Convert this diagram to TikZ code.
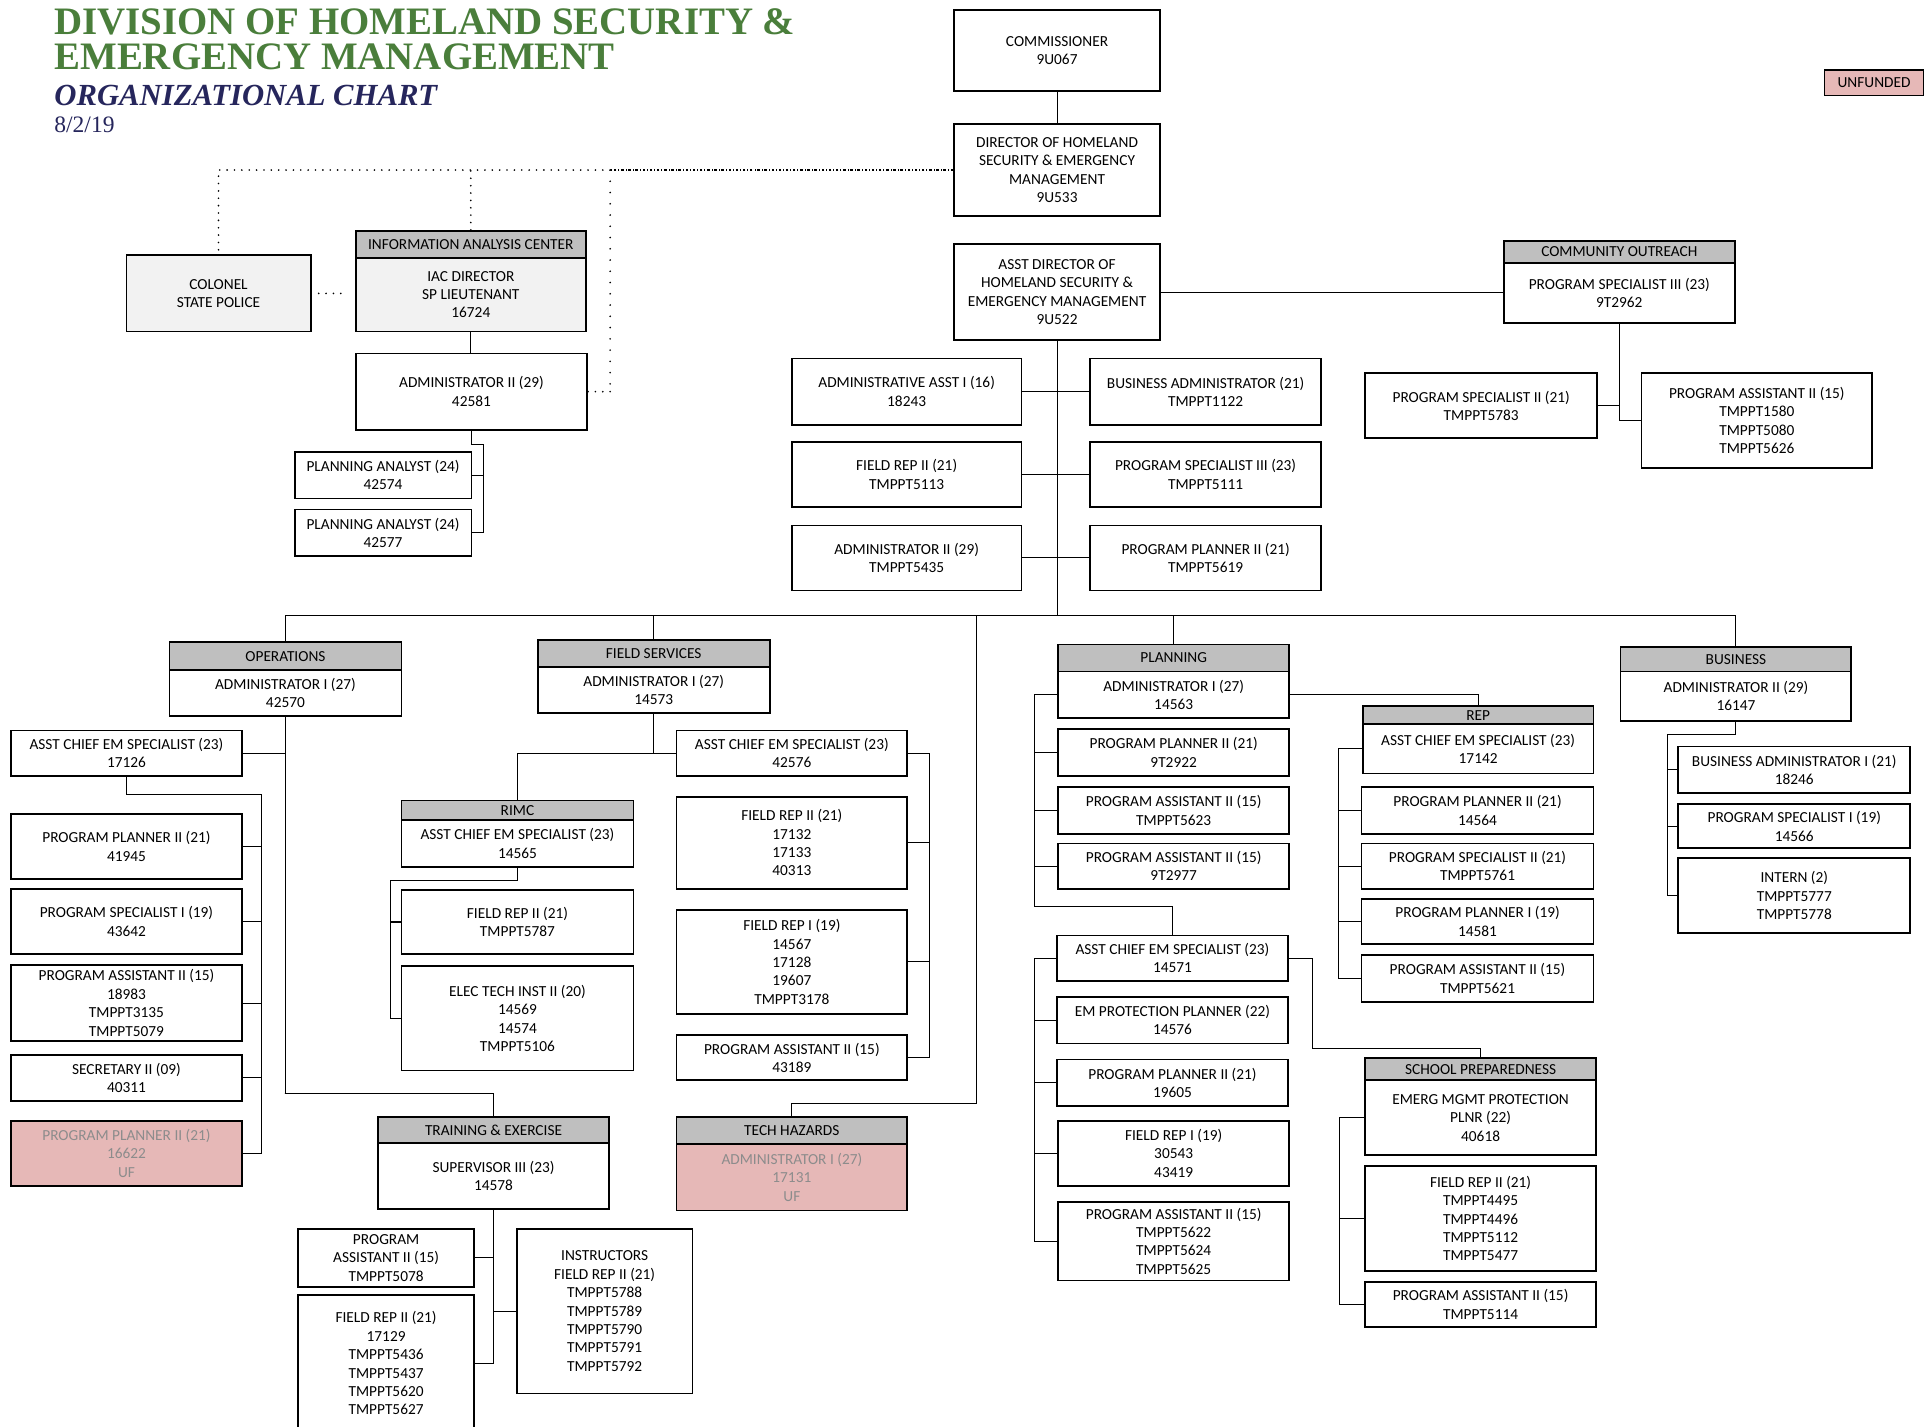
\documentclass[tikz,border=0pt]{standalone}
\usepackage{fontspec}
\setmainfont{Carlito}
\newfontfamily\tnr{Liberation Serif}
\definecolor{ttlgreen}{RGB}{74,126,59}
\definecolor{ttlnavy}{RGB}{38,38,92}
\definecolor{hdrgray}{RGB}{191,191,191}
\definecolor{ltgray}{RGB}{242,242,242}
\definecolor{ufpink}{RGB}{230,184,183}
\definecolor{uftext}{RGB}{140,140,140}
\tikzset{
  box/.style={draw, line width=0.9pt, inner sep=0pt, align=center, font=\fontsize{7.5}{9}\selectfont},
  hdr/.style={fill=hdrgray},
  light/.style={fill=ltgray},
  unfund/.style={fill=ufpink, text=uftext},
  conn/.style={line width=0.5pt},
  dotline/.style={line width=0.9pt, line cap=round, dash pattern=on 0pt off 3.6pt},
  dotsparse/.style={line width=0.9pt, line cap=round, dash pattern=on 0pt off 5.5pt},
  dotdense/.style={line width=0.8pt, dash pattern=on 1.2pt off 1pt on 0.3pt off 1pt},
  ttl/.style={anchor=base west, inner sep=0pt},
}
\newcommand\B[7][]{\node[box,#1,minimum width={(#5-#3)*0.6pt},minimum height={(#6-#4)*0.6pt}] (#2) at ({(#3+#5)/2},{(#4+#6)/2}) {#7};}
\begin{document}
\begin{tikzpicture}[x=0.6pt,y=-0.6pt]
\useasboundingbox (0,0) rectangle (1568,1162);
% title
\node[ttl, text=ttlgreen, font=\tnr\bfseries\fontsize{19}{19}\selectfont] (t1) at (44,28) {DIVISION OF HOMELAND SECURITY \&};
\node[ttl, text=ttlgreen, font=\tnr\bfseries\fontsize{19}{19}\selectfont] (t2) at (44,57) {EMERGENCY MANAGEMENT};
\node[ttl, text=ttlnavy, font=\tnr\bfseries\itshape\fontsize{15}{15}\selectfont] (t3) at (44,86) {ORGANIZATIONAL CHART};
\node[ttl, text=ttlnavy, font=\tnr\fontsize{11.5}{11.5}\selectfont] (t4) at (44,108) {8/2/19};

% top column
\B{comm}{777}{8}{945}{74}{COMMISSIONER\\9U067}
\B{dir}{777}{101}{945}{176}{DIRECTOR OF HOMELAND\\SECURITY \& EMERGENCY\\MANAGEMENT\\9U533}
\B{asst}{777}{199}{945}{277}{ASST DIRECTOR OF\\HOMELAND SECURITY \&\\EMERGENCY MANAGEMENT\\9U522}
\B[fill=ufpink,line width=0.6pt]{unf}{1486}{57}{1567}{78}{UNFUNDED}

% IAC
\B[light]{col}{103}{208}{253}{270}{COLONEL\\STATE POLICE}
\B[hdr]{iacH}{290}{188}{477}{210}{INFORMATION ANALYSIS CENTER}
\B[light]{iacB}{290}{210}{477}{270}{IAC DIRECTOR\\SP LIEUTENANT\\16724}
\B{admIAC}{290}{288}{478}{350}{ADMINISTRATOR II (29)\\42581}
\B{pa1}{240}{368}{384}{406}{PLANNING ANALYST (24)\\42574}
\B{pa2}{240}{415}{384}{453}{PLANNING ANALYST (24)\\42577}

% center staff
\B{aa}{645}{292}{832}{346}{ADMINISTRATIVE ASST I (16)\\18243}
\B{ba}{888}{292}{1076}{346}{BUSINESS ADMINISTRATOR (21)\\TMPPT1122}
\B{fr}{645}{360}{832}{413}{FIELD REP II (21)\\TMPPT5113}
\B{ps3}{888}{360}{1076}{413}{PROGRAM SPECIALIST III (23)\\TMPPT5111}
\B{ad2}{645}{428}{832}{481}{ADMINISTRATOR II (29)\\TMPPT5435}
\B{pp2}{888}{428}{1076}{481}{PROGRAM PLANNER II (21)\\TMPPT5619}

% community outreach
\B[hdr]{coH}{1225}{196}{1413}{214}{COMMUNITY OUTREACH}
\B{coB}{1225}{214}{1413}{263}{PROGRAM SPECIALIST III (23)\\9T2962}
\B{coPS}{1112}{304}{1301}{357}{PROGRAM SPECIALIST II (21)\\TMPPT5783}
\B{coPA}{1337}{304}{1525}{381}{PROGRAM ASSISTANT II (15)\\TMPPT1580\\TMPPT5080\\TMPPT5626}

% operations
\B[hdr]{opsH}{138}{523}{327}{546}{OPERATIONS}
\B{opsB}{138}{546}{327}{583}{ADMINISTRATOR I (27)\\42570}
\B{opsAC}{9}{595}{197}{632}{ASST CHIEF EM SPECIALIST (23)\\17126}
\B{opsPP}{9}{663}{197}{716}{PROGRAM PLANNER II (21)\\41945}
\B{opsPS}{9}{724}{197}{777}{PROGRAM SPECIALIST I (19)\\43642}
\B{opsPA}{9}{786}{197}{848}{PROGRAM ASSISTANT II (15)\\18983\\TMPPT3135\\TMPPT5079}
\B{opsSec}{9}{859}{197}{897}{SECRETARY II (09)\\40311}
\B[unfund]{opsUF}{9}{913}{197}{966}{PROGRAM PLANNER II (21)\\16622\\UF}

% field services
\B[hdr]{fsH}{438}{521}{627}{543}{FIELD SERVICES}
\B{fsB}{438}{543}{627}{581}{ADMINISTRATOR I (27)\\14573}
\B{fsAC}{551}{595}{739}{632}{ASST CHIEF EM SPECIALIST (23)\\42576}
\B{fsFR2}{551}{649}{739}{724}{FIELD REP II (21)\\17132\\17133\\40313}
\B{fsFR1}{551}{741}{739}{826}{FIELD REP I (19)\\14567\\17128\\19607\\TMPPT3178}
\B{fsPA}{551}{843}{739}{880}{PROGRAM ASSISTANT II (15)\\43189}
\B[hdr]{rimcH}{327}{652}{516}{668}{RIMC}
\B{rimcB}{327}{668}{516}{706}{ASST CHIEF EM SPECIALIST (23)\\14565}
\B{rimcFR}{327}{725}{516}{777}{FIELD REP II (21)\\TMPPT5787}
\B{rimcET}{327}{787}{516}{872}{ELEC TECH INST II (20)\\14569\\14574\\TMPPT5106}

% training & exercise
\B[hdr]{trH}{308}{910}{496}{931}{TRAINING \& EXERCISE}
\B{trB}{308}{931}{496}{985}{SUPERVISOR III (23)\\14578}
\B{trPA}{243}{1001}{386}{1048}{PROGRAM\\ASSISTANT II (15)\\TMPPT5078}
\B{trFR}{243}{1055}{386}{1166}{FIELD REP II (21)\\17129\\TMPPT5436\\TMPPT5437\\TMPPT5620\\TMPPT5627}
\B{trIN}{421}{1001}{564}{1135}{INSTRUCTORS\\FIELD REP II (21)\\TMPPT5788\\TMPPT5789\\TMPPT5790\\TMPPT5791\\TMPPT5792}

% tech hazards
\B[hdr]{thH}{551}{910}{739}{932}{TECH HAZARDS}
\B[unfund]{thB}{551}{932}{739}{986}{ADMINISTRATOR I (27)\\17131\\UF}

% planning
\B[hdr]{plH}{862}{525}{1050}{547}{PLANNING}
\B{plB}{862}{547}{1050}{585}{ADMINISTRATOR I (27)\\14563}
\B{plPP}{862}{594}{1050}{632}{PROGRAM PLANNER II (21)\\9T2922}
\B{plPA1}{862}{641}{1050}{679}{PROGRAM ASSISTANT II (15)\\TMPPT5623}
\B{plPA2}{862}{687}{1050}{724}{PROGRAM ASSISTANT II (15)\\9T2977}
\B{plAC}{861}{762}{1049}{799}{ASST CHIEF EM SPECIALIST (23)\\14571}
\B{plEM}{861}{812}{1049}{850}{EM PROTECTION PLANNER (22)\\14576}
\B{plPP2}{861}{863}{1049}{901}{PROGRAM PLANNER II (21)\\19605}
\B{plFR}{862}{913}{1050}{966}{FIELD REP I (19)\\30543\\43419}
\B{plPA3}{862}{979}{1050}{1043}{PROGRAM ASSISTANT II (15)\\TMPPT5622\\TMPPT5624\\TMPPT5625}

% REP
\B[hdr]{repH}{1110}{575}{1298}{590}{REP}
\B{repB}{1110}{590}{1298}{630}{ASST CHIEF EM SPECIALIST (23)\\17142}
\B{repPP}{1109}{641}{1298}{679}{PROGRAM PLANNER II (21)\\14564}
\B{repPS}{1109}{687}{1298}{724}{PROGRAM SPECIALIST II (21)\\TMPPT5761}
\B{repPP1}{1109}{732}{1298}{769}{PROGRAM PLANNER I (19)\\14581}
\B{repPA}{1109}{778}{1298}{816}{PROGRAM ASSISTANT II (15)\\TMPPT5621}

% school preparedness
\B[hdr]{spH}{1112}{862}{1300}{880}{SCHOOL PREPAREDNESS}
\B{spB}{1112}{880}{1300}{941}{EMERG MGMT PROTECTION\\PLNR (22)\\40618}
\B{spFR}{1112}{950}{1300}{1035}{FIELD REP II (21)\\TMPPT4495\\TMPPT4496\\TMPPT5112\\TMPPT5477}
\B{spPA}{1112}{1044}{1300}{1081}{PROGRAM ASSISTANT II (15)\\TMPPT5114}

% business
\B[hdr]{bizH}{1320}{527}{1508}{547}{BUSINESS}
\B{bizB}{1320}{547}{1508}{587}{ADMINISTRATOR II (29)\\16147}
\B{bizBA}{1367}{608}{1556}{646}{BUSINESS ADMINISTRATOR I (21)\\18246}
\B{bizPS}{1367}{655}{1556}{691}{PROGRAM SPECIALIST I (19)\\14566}
\B{bizIN}{1367}{699}{1556}{760}{INTERN (2)\\TMPPT5777\\TMPPT5778}

% ---------- connectors ----------
\begin{scope}[conn]
\draw (comm.south) -- (dir.north);
\coordinate (busC) at (861,501);
\draw (asst.south) -- (busC);
\draw (aa.east) -- (ba.west);
\draw (fr.east) -- (ps3.west);
\draw (ad2.east) -- (pp2.west);
\draw (opsH.north) -- (opsH.north |- busC) -- (bizH.north |- busC) -- (bizH.north);
\draw (fsH.north) -- (fsH.north |- busC);
\draw (plH.north) -- (plH.north |- busC);
\coordinate (thBus) at (795,899);
\draw (thBus |- busC) -- (thBus) -| (thH.north);
% community outreach
\draw (asst.east) -- (asst.east -| coB.west);
\draw (coB.south) |- (coPA.west);
\draw (coPS.east) -- (coPS.east -| coB.south);
% IAC
\draw (iacB.south) -- (iacB.south |- admIAC.north);
\coordinate (iacBus) at (394,362);
\draw (admIAC.south) |- (iacBus) |- (pa2.east);
\draw (pa1.east) -- (pa1.east -| iacBus);
% operations
\coordinate (trBus) at (232,891);
\draw (opsB.south) |- (trBus) -| (trH.north);
\draw (opsAC.east) -- (opsAC.east -| opsB.south);
\coordinate (opsBus) at (213,647);
\draw (opsAC.south) |- (opsBus) |- (opsUF.east);
\foreach \n in {opsPP,opsPS,opsPA,opsSec} \draw (\n.east) -- (\n.east -| opsBus);
% field services
\draw (fsB.south) |- (fsAC.west);
\draw (fsAC.west -| fsB.south) -| (rimcH.north);
\coordinate (fsBus) at (757,613);
\draw (fsAC.east) -- (fsAC.east -| fsBus) |- (fsPA.east);
\foreach \n in {fsFR2,fsFR1} \draw (\n.east) -- (\n.east -| fsBus);
\coordinate (rimcBus) at (318,717);
\draw (rimcB.south) |- (rimcBus) |- (rimcET.west);
\draw (rimcFR.west) -- (rimcFR.west -| rimcBus);
% training
\draw (trB.south) |- (trFR.east);
\draw (trPA.east) -- (trPA.east -| trB.south);
\draw (trIN.west) -- (trIN.west -| trB.south);
% planning
\coordinate (plBus) at (843,738);
\draw (plB.west) -- (plB.west -| plBus) -- (plBus) -| (plAC.north);
\foreach \n in {plPP,plPA1,plPA2} \draw (\n.west) -- (\n.west -| plBus);
\coordinate (plBus2) at (843,780);
\draw (plAC.west) -- (plAC.west -| plBus2) |- (plPA3.west);
\foreach \n in {plEM,plPP2,plFR} \draw (\n.west) -- (\n.west -| plBus2);
\coordinate (spBus) at (1069,854);
\draw (plAC.east) -| (spBus) -| (spH.north);
\draw (plB.east) -| (repH.north);
\coordinate (repBus) at (1090,797);
\draw (repB.west) -- (repB.west -| repBus) |- (repPA.west);
\foreach \n in {repPP,repPS,repPP1} \draw (\n.west) -- (\n.west -| repBus);
\coordinate (spBus2) at (1091,1062);
\draw (spB.west) -- (spB.west -| spBus2) |- (spPA.west);
\draw (spFR.west) -- (spFR.west -| spBus2);
% business
\coordinate (bizBus) at (1358,598);
\draw (bizB.south) |- (bizBus) |- (bizIN.west);
\foreach \n in {bizBA,bizPS} \draw (\n.west) -- (\n.west -| bizBus);
\end{scope}

% dotted links
\coordinate (dj) at (497,138.5);
\draw[dotdense] (dir.west) -- (dj);
\draw[dotline] (dj) -- (dj -| col.north) -- (col.north);
\draw[dotline] (iacH.north) -- (iacH.north |- dj);
\draw[dotsparse] (dj) -- (dj |- admIAC.east);
\draw[dotline] (dj |- admIAC.east) -- (admIAC.east);
\draw[dotline, shorten <=3.5pt, shorten >=3.5pt] (col.east) -- (col.east -| iacB.west);
\end{tikzpicture}
\end{document}
